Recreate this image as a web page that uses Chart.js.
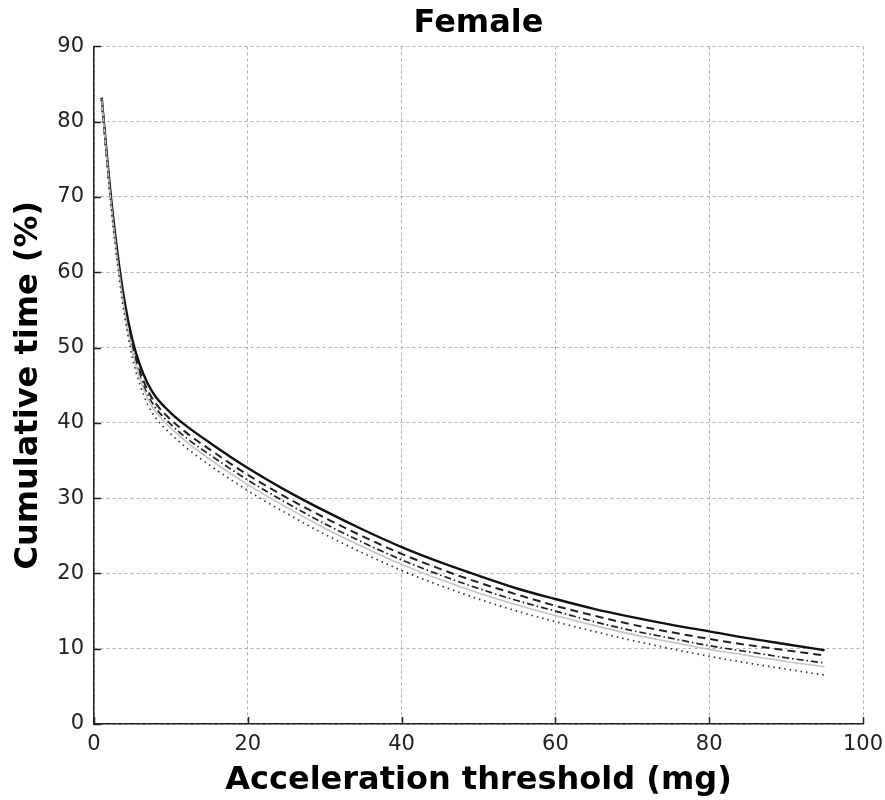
<!DOCTYPE html>
<html>
<head>
<meta charset="utf-8">
<script src="https://cdn.jsdelivr.net/npm/chart.js@4/dist/chart.umd.min.js"></script>
<style>
  html, body { margin: 0; padding: 0; background: #fff; }
  canvas { display: block; }
</style>
</head>
<body>
<canvas id="femaleChart" width="885" height="800"></canvas>
<script>
// acceleration thresholds (mg)
const thresholds = [1, 2, 3, 4, 5, 6, 7, 8, 10, 12, 15, 20, 25, 30, 35, 40, 45, 50, 55, 60, 65, 70, 75, 80, 85, 90, 95];

// cumulative time (%) above each threshold, one array per curve
const solidLine = [83.2, 72.0, 63.0, 56.0, 51.0, 47.6, 45.2, 43.5, 41.3, 39.6, 37.4, 34.0, 31.0, 28.3, 25.8, 23.5, 21.5, 19.7, 18.0, 16.6, 15.3, 14.2, 13.2, 12.3, 11.4, 10.6, 9.8];
const dashedLine = [83.1, 71.8, 62.6, 55.5, 50.3, 46.8, 44.3, 42.6, 40.4, 38.7, 36.5, 33.1, 30.1, 27.4, 24.9, 22.6, 20.6, 18.8, 17.2, 15.7, 14.4, 13.2, 12.2, 11.3, 10.5, 9.8, 9.1];
const dashDotLine = [83.0, 71.5, 62.3, 55.0, 49.8, 46.2, 43.7, 42.0, 39.8, 38.0, 35.8, 32.4, 29.4, 26.6, 24.1, 21.8, 19.8, 18.0, 16.4, 15.0, 13.6, 12.4, 11.4, 10.4, 9.6, 8.8, 8.1];
const greyLine = [83.0, 71.3, 62.0, 54.7, 49.4, 45.8, 43.2, 41.5, 39.3, 37.5, 35.2, 31.8, 28.8, 26.0, 23.5, 21.2, 19.2, 17.4, 15.8, 14.4, 13.1, 11.9, 10.9, 9.9, 9.1, 8.3, 7.6];
const dottedLine = [82.9, 71.0, 61.5, 54.0, 48.6, 45.0, 42.4, 40.7, 38.5, 36.7, 34.4, 31.0, 28.0, 25.2, 22.7, 20.4, 18.4, 16.6, 15.0, 13.6, 12.3, 11.1, 10.0, 9.0, 8.1, 7.3, 6.5];

const xTicks = [0, 20, 40, 60, 80, 100];
const yTicks = [0, 10, 20, 30, 40, 50, 60, 70, 80, 90];

function toPoints(values) {
  return values.map((v, i) => ({ x: thresholds[i], y: v }));
}

function curve(values, color, width, dash) {
  return {
    data: toPoints(values),
    borderColor: color,
    borderWidth: width,
    borderDash: dash,
    pointRadius: 0,
    fill: false,
    cubicInterpolationMode: 'monotone'
  };
}

const tickFont = { family: 'DejaVu Sans', size: 21 };
const titleFont = { family: 'DejaVu Sans', size: 32, weight: 'bold' };

// small tick marks pointing into the plot area
const innerTicks = {
  id: 'innerTicks',
  afterDraw(chart) {
    const ctx = chart.ctx;
    const area = chart.chartArea;
    const xs = chart.scales.x, ys = chart.scales.y;
    ctx.save();
    ctx.strokeStyle = '#222';
    ctx.lineWidth = 1.5;
    ctx.beginPath();
    xTicks.forEach(v => {
      const px = Math.round(xs.getPixelForValue(v)) + 0.5;
      ctx.moveTo(px, area.bottom);
      ctx.lineTo(px, area.bottom - 7);
    });
    yTicks.forEach(v => {
      const py = Math.round(ys.getPixelForValue(v)) + 0.5;
      ctx.moveTo(area.left, py);
      ctx.lineTo(area.left + 7, py);
    });
    ctx.stroke();
    ctx.restore();
  }
};

new Chart(document.getElementById('femaleChart'), {
  type: 'line',
  data: {
    datasets: [
      curve(dottedLine, '#333', 1.7, [1.5, 4]),
      curve(greyLine, '#c4c4c4', 1.6, []),
      curve(dashDotLine, '#222', 1.7, [7, 3, 1.5, 3]),
      curve(dashedLine, '#222', 2, [8, 5]),
      curve(solidLine, '#111', 2.4, [])
    ]
  },
  options: {
    responsive: false,
    animation: false,
    layout: { padding: 0 },
    plugins: {
      legend: { display: false },
      tooltip: { enabled: false },
      title: {
        display: true,
        fullSize: false,
        text: 'Female',
        color: '#000',
        font: { family: 'DejaVu Sans', size: 32, weight: 'bold' },
        padding: { top: 4, bottom: 4 }
      }
    },
    scales: {
      x: {
        type: 'linear',
        min: 0,
        max: 100,
        afterFit(scale) {
          scale.height = 76;
          scale.paddingRight = 22;
        },
        afterBuildTicks(scale) { scale.ticks = xTicks.map(v => ({ value: v })); },
        ticks: { color: '#222', font: tickFont, padding: 8, maxRotation: 0 },
        grid: { color: '#b0b0b0', lineWidth: 1, drawTicks: false },
        border: { display: true, color: '#222', width: 1.5, dash: [3, 3] },
        title: {
          display: true,
          text: 'Acceleration threshold (mg)',
          color: '#000',
          font: titleFont,
          padding: { top: 2, bottom: 0 }
        }
      },
      y: {
        type: 'linear',
        min: 0,
        max: 90,
        afterFit(scale) { scale.width = 94; },
        afterBuildTicks(scale) { scale.ticks = yTicks.map(v => ({ value: v })); },
        ticks: { color: '#222', font: tickFont, padding: 10 },
        grid: { color: '#b0b0b0', lineWidth: 1, drawTicks: false },
        border: { display: true, color: '#222', width: 1.5, dash: [3, 3] },
        title: {
          display: true,
          text: 'Cumulative time (%)',
          color: '#000',
          font: titleFont,
          padding: { top: 9, bottom: 0 }
        }
      }
    }
  },
  plugins: [innerTicks]
});
</script>
</body>
</html>
